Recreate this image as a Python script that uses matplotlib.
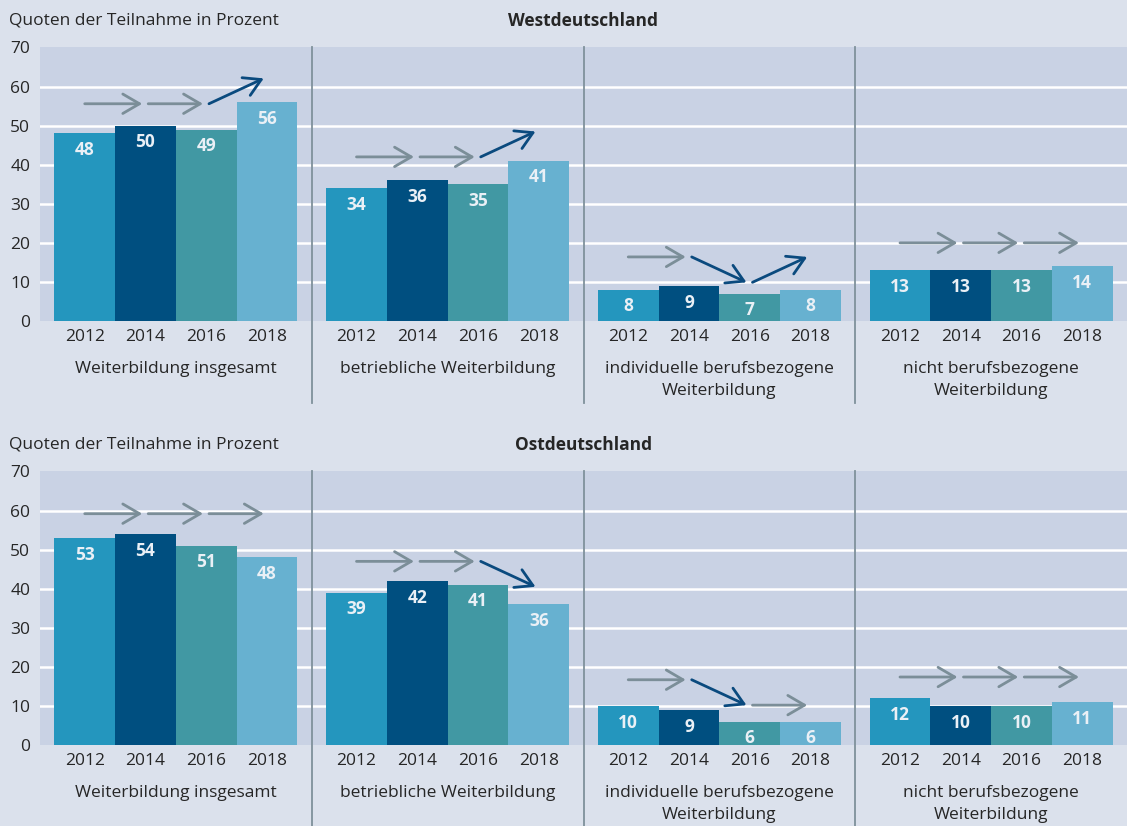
import numpy as np
import matplotlib.pyplot as plt
from matplotlib.patches import FancyArrowPatch
from matplotlib.lines import Line2D

plt.rcParams['font.family'] = ['Open Sans', 'DejaVu Sans']

years = ['2012', '2014', '2016', '2018']
groups = ['Weiterbildung insgesamt', 'betriebliche Weiterbildung',
          'individuelle berufsbezogene\nWeiterbildung', 'nicht berufsbezogene\nWeiterbildung']
west = [[48, 50, 49, 56], [34, 36, 35, 41], [8, 9, 7, 8], [13, 13, 13, 14]]
ost = [[53, 54, 51, 48], [39, 42, 41, 36], [10, 9, 6, 6], [12, 10, 10, 11]]
# trend between consecutive surveys: '=' stable, '+' rising, '-' falling
west_trend = [['=', '=', '+'], ['=', '=', '+'], ['=', '-', '+'], ['=', '=', '=']]
ost_trend = [['=', '=', '='], ['=', '=', '-'], ['=', '-', '='], ['=', '=', '=']]
west_arrow_level = [55.6, 42, 16.4, 20]
ost_arrow_level = [59.2, 47, 16.7, 17.4]

bar_colors = ['#2496be', '#004f80', '#4198a3', '#67b1d0']
bg = '#dbe1ec'
plot_bg = '#c9d2e4'
txt = '#262626'
gray_arrow = '#7b8e98'
blue_arrow = '#0a4a7e'
sep_col = '#7f919b'

W, H = 1127, 826
fig = plt.figure(figsize=(W / 100, H / 100), dpi=100, facecolor=bg)

bw = 0.2236
step = 6.5
fs = 12.5


def panel(top_px, bottom_px, title, data, trends, levels):
    ax = fig.add_axes([40 / W, 1 - bottom_px / H, 1087 / W, (bottom_px - top_px) / H])
    ax.set_facecolor(plot_bg)
    ax.set_xlim(0, 4)
    ax.set_ylim(0, 70)
    for s in ax.spines.values():
        s.set_visible(False)
    ax.set_yticks(range(0, 71, 10))
    ax.tick_params(axis='y', length=0, pad=7, labelsize=fs, labelcolor=txt)
    ax.set_xticks([])
    for g in range(10, 70, 10):
        ax.axhline(g, color='white', lw=1.8, zorder=1)

    for i, vals in enumerate(data):
        xs = i + 0.5 + (np.arange(4) - 1.5) * bw
        ax.bar(xs, vals, width=bw, color=bar_colors, zorder=2)
        for x, v in zip(xs, vals):
            ax.annotate(str(v), (x, v), xytext=(0, -12), textcoords='offset points',
                        ha='center', va='center', fontsize=fs, fontweight='bold',
                        color='#eaf0f6', zorder=3)
        for x, y in zip(xs, years):
            ax.text(x, -0.06, y, transform=ax.get_xaxis_transform(), ha='center',
                    va='center', fontsize=fs, color=txt)
        ax.text(i + 0.5, -0.145, groups[i], transform=ax.get_xaxis_transform(),
                ha='center', va='top', fontsize=fs, color=txt, linespacing=1.5)
        # trend arrows
        lvl = levels[i]
        for j, t in enumerate(trends[i]):
            nxt = lvl + (step if t == '+' else -step if t == '-' else 0)
            col = gray_arrow if t == '=' else blue_arrow
            x0 = xs[j] + (0.0 if j == 0 else 0.01)
            x1 = xs[j + 1] - 0.012
            arr = FancyArrowPatch((x0, lvl), (x1, nxt),
                                  arrowstyle='->,head_length=0.6,head_width=0.35',
                                  mutation_scale=20, lw=2.0, color=col,
                                  shrinkA=0, shrinkB=0, zorder=4)
            ax.add_patch(arr)
            lvl = nxt

    for k in range(1, 4):
        ax.add_line(Line2D([k, k], [1, -0.30], transform=ax.get_xaxis_transform(),
                           color=sep_col, lw=1.3, clip_on=False, zorder=5))

    y_title = 1 - (top_px - 27) / H
    fig.text(9 / W, y_title, 'Quoten der Teilnahme in Prozent', ha='left',
             va='center', fontsize=fs, color=txt)
    fig.text((40 + 1087 * 0.5) / W, y_title, title, ha='center', va='center',
             fontsize=fs, fontweight='bold', color=txt)
    return ax


panel(47.5, 321, 'Westdeutschland', west, west_trend, west_arrow_level)
panel(471.5, 745, 'Ostdeutschland', ost, ost_trend, ost_arrow_level)

fig.savefig('out.png', dpi=100, facecolor=bg)
